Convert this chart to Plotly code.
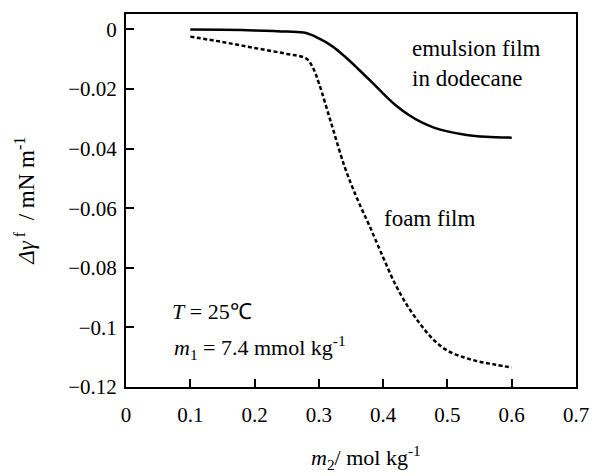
import plotly.graph_objects as go

# emulsion film in dodecane (solid)
emul_x = [0.10, 0.15, 0.20, 0.25, 0.28, 0.30, 0.32, 0.34, 0.36, 0.38, 0.40, 0.42, 0.44, 0.46, 0.48, 0.50, 0.53, 0.56, 0.60]
emul_y = [0.0, -0.0001, -0.0003, -0.0007, -0.0012, -0.0030, -0.0055, -0.0090, -0.0130, -0.0172, -0.0215, -0.0255, -0.0287, -0.0312, -0.0330, -0.0342, -0.0354, -0.0360, -0.0363]

# foam film (dotted)
foam_x = [0.10, 0.15, 0.20, 0.25, 0.28, 0.29, 0.30, 0.32, 0.34, 0.36, 0.38, 0.40, 0.42, 0.44, 0.46, 0.48, 0.50, 0.525, 0.55, 0.575, 0.60]
foam_y = [-0.0024, -0.0042, -0.0062, -0.0082, -0.0097, -0.0125, -0.0180, -0.0320, -0.0460, -0.0570, -0.0665, -0.0765, -0.0860, -0.0935, -0.0995, -0.1045, -0.1078, -0.1100, -0.1115, -0.1125, -0.1135]

x_ticks = [0, 0.1, 0.2, 0.3, 0.4, 0.5, 0.6, 0.7]
y_ticks = [0, -0.02, -0.04, -0.06, -0.08, -0.1, -0.12]

FONT = "Liberation Serif"

fig = go.Figure()
fig.add_trace(go.Scatter(x=emul_x, y=emul_y, mode="lines",
                         line=dict(color="black", width=2.5, shape="spline", smoothing=1.0),
                         showlegend=False))
fig.add_trace(go.Scatter(x=foam_x, y=foam_y, mode="lines",
                         line=dict(color="black", width=2.5, dash="4px,2.5px", shape="spline", smoothing=1.0),
                         showlegend=False))

axis_common = dict(showline=True, linecolor="black", linewidth=2, mirror=True,
                   ticks="inside", ticklen=8, tickwidth=2, tickcolor="black",
                   showgrid=False, zeroline=False,
                   tickfont=dict(family=FONT, size=21, color="black"))

fig.update_xaxes(range=[0, 0.7], tickvals=x_ticks, ticktext=[("%g" % v) for v in x_ticks],
                 ticklabelstandoff=8, **axis_common)
fig.update_yaxes(range=[-0.12, 0.0052], tickvals=y_ticks,
                 ticktext=[("%g" % v).replace("-", "\u2212") for v in y_ticks],
                 ticklabelstandoff=3, **axis_common)

pw, ph = 601 - 126 - 24, 476 - 12 - 89

fig.update_layout(
    width=601, height=476,
    margin=dict(l=126, r=24, t=12, b=89),
    paper_bgcolor="white", plot_bgcolor="white",
    font=dict(family=FONT, size=21, color="black"),
    annotations=[
        dict(text="emulsion film<br>in dodecane", x=0.441, y=-0.0115, xref="x", yref="y",
             xanchor="left", yanchor="middle", align="left", showarrow=False,
             font=dict(family=FONT, size=23)),
        dict(text="foam film", x=0.398, y=-0.0635, xref="x", yref="y",
             xanchor="left", yanchor="middle", showarrow=False,
             font=dict(family=FONT, size=23)),
        dict(text="<i>T</i> = 25<span style=\"font-family:'Liberation Sans'\">\u2103</span>",
             x=0.068, y=-0.0947, xref="x", yref="y", xanchor="left", yanchor="middle",
             showarrow=False, font=dict(family=FONT, size=22)),
        dict(text="<i>m</i><sub>1</sub> = 7.4 mmol kg<sup>-1</sup>",
             x=0.072, y=-0.1068, xref="x", yref="y", xanchor="left", yanchor="middle",
             showarrow=False, font=dict(family=FONT, size=22)),
        dict(text="<i>m</i><sub>2</sub>/ mol kg<sup>-1</sup>",
             x=(367 - 126) / pw, y=(387 - 458) / ph, xref="paper", yref="paper",
             xanchor="center", yanchor="middle", showarrow=False,
             font=dict(family=FONT, size=22)),
        dict(text="<i>\u0394\u03b3</i><sup> f</sup>  / mN m<sup>-1</sup>",
             x=(25 - 126) / pw, y=0.5, xref="paper", yref="paper", textangle=-90,
             xanchor="center", yanchor="middle", showarrow=False,
             font=dict(family=FONT, size=23)),
    ],
)

fig.write_html("out.html")
